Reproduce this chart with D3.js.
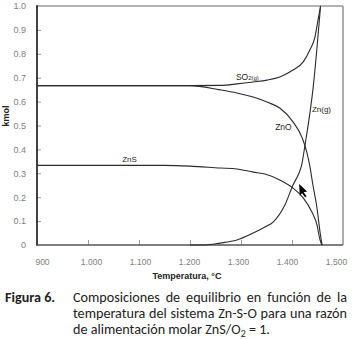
<!DOCTYPE html>
<html>
<head>
<meta charset="utf-8">
<script src="https://cdn.jsdelivr.net/npm/d3@7"></script>
<style>
  html, body { margin: 0; padding: 0; background: #fff; }
  svg { display: block; }
</style>
</head>
<body>
<svg id="chart" width="353" height="339"></svg>
<script>
// Equilibrium composition of the Zn-S-O system vs temperature (kmol)
const so2Temp  = [900, 1200, 1259, 1292, 1324, 1351, 1376, 1402, 1422, 1435, 1445, 1451, 1456];
const so2Kmol  = [0.667, 0.667, 0.668, 0.674, 0.682, 0.690, 0.703, 0.732, 0.766, 0.816, 0.870, 0.941, 1.0];

const znoTemp  = [900, 1200, 1259, 1292, 1324, 1351, 1376, 1402, 1420, 1429, 1435, 1441, 1449, 1455, 1459];
const znoKmol  = [0.667, 0.667, 0.649, 0.636, 0.619, 0.598, 0.573, 0.515, 0.448, 0.389, 0.330, 0.251, 0.155, 0.054, 0];

const zngTemp  = [1200, 1225, 1259, 1292, 1324, 1347, 1363, 1386, 1402, 1412, 1419, 1425, 1442, 1456];
const zngKmol  = [0, 0, 0.008, 0.021, 0.050, 0.075, 0.096, 0.167, 0.251, 0.293, 0.335, 0.411, 0.669, 1.0];

const znsTemp  = [900, 1150, 1200, 1259, 1292, 1324, 1347, 1376, 1402, 1422, 1439, 1449, 1455, 1459];
const znsKmol  = [0.333, 0.333, 0.330, 0.322, 0.318, 0.305, 0.297, 0.272, 0.238, 0.197, 0.138, 0.084, 0.021, 0];

const xTicks = [900, 1000, 1100, 1200, 1300, 1400, 1500];
const xTickLabels = ["900", "1.000", "1.100", "1.200", "1.300", "1.400", "1.500"];
const yTicks = [0, 0.1, 0.2, 0.3, 0.4, 0.5, 0.6, 0.7, 0.8, 0.9, 1.0];
const yTickLabels = ["0", "0.1", "0.2", "0.3", "0.4", "0.5", "0.6", "0.7", "0.8", "0.9", "1.0"];

const svg = d3.select("#chart");
const plotL = 37, plotR = 343, plotT = 6, plotB = 245;

const x = d3.scaleLinear().domain([900, 1500]).range([plotL, plotR]);
const y = d3.scaleLinear().domain([0, 1]).range([plotB, plotT]);
// tick labels sit on a slightly narrower span than the tick marks
const xLab = d3.scaleLinear().domain([900, 1500]).range([42, 336]);

const tickFont = "'Liberation Sans', Arial, sans-serif";

// frame: top and right edges in grey
svg.append("line").attr("x1", plotL).attr("x2", plotR).attr("y1", plotT).attr("y2", plotT)
  .attr("stroke", "#999").attr("stroke-width", 1.6);
svg.append("line").attr("x1", plotR).attr("x2", plotR).attr("y1", plotT).attr("y2", plotB)
  .attr("stroke", "#999").attr("stroke-width", 1.6);

// inward tick marks
const xAxis = d3.axisTop(x).tickValues(xTicks.slice(1, -1)).tickSize(5).tickFormat("");
const gx = svg.append("g").attr("transform", `translate(0,${plotB})`).call(xAxis);
gx.select(".domain").remove();
gx.selectAll(".tick line").attr("stroke", "#999");

const yAxis = d3.axisRight(y).tickValues(yTicks.slice(1, -1)).tickSize(4).tickFormat("");
const gy = svg.append("g").attr("transform", `translate(${plotL},0)`).call(yAxis);
gy.select(".domain").remove();
gy.selectAll(".tick line").attr("stroke", "#999");

// tick labels
const gxl = svg.append("g").attr("transform", `translate(0,${plotB})`)
  .call(d3.axisBottom(xLab).tickValues(xTicks).tickSize(0).tickPadding(14)
    .tickFormat((d, i) => xTickLabels[i]));
gxl.select(".domain").remove();
gxl.selectAll("text").attr("font-family", tickFont).attr("font-size", 8.5).attr("fill", "#808080");

const gyl = svg.append("g").attr("transform", `translate(${plotL},0)`)
  .call(d3.axisLeft(y).tickValues(yTicks).tickSize(0).tickPadding(11)
    .tickFormat((d, i) => yTickLabels[i]));
gyl.select(".domain").remove();
gyl.selectAll("text").attr("font-family", tickFont).attr("font-size", 9).attr("fill", "#808080");

// left and bottom axis lines
svg.append("line").attr("x1", plotL).attr("x2", plotL).attr("y1", plotT - 0.8).attr("y2", plotB + 0.8)
  .attr("stroke", "#111").attr("stroke-width", 1.6);
svg.append("line").attr("x1", plotL).attr("x2", plotR).attr("y1", plotB).attr("y2", plotB)
  .attr("stroke", "#555").attr("stroke-width", 1.6);

// axis titles
svg.append("text").attr("x", 187).attr("y", 279).attr("text-anchor", "middle")
  .attr("font-family", tickFont).attr("font-weight", "bold").attr("font-size", 9)
  .attr("fill", "#222").text("Temperatura, °C");
svg.append("text").attr("transform", "translate(9,116) rotate(-90)").attr("text-anchor", "middle")
  .attr("font-family", tickFont).attr("font-weight", "bold").attr("font-size", 9)
  .attr("fill", "#222").text("kmol");

// curves
const line = d3.line().x(d => x(d[0])).y(d => y(d[1])).curve(d3.curveMonotoneX);
const series = [
  [so2Temp, so2Kmol],
  [znoTemp, znoKmol],
  [zngTemp, zngKmol],
  [znsTemp, znsKmol]
];
series.forEach(([t, v]) => {
  svg.append("path")
    .datum(t.map((d, i) => [d, v[i]]))
    .attr("d", line)
    .attr("fill", "none")
    .attr("stroke", "#2a2a2a")
    .attr("stroke-width", 1.1);
});

// curve labels
const labFont = "'Liberation Sans', Arial, sans-serif";
function curveLabel(t, v, parts) {
  const txt = svg.append("text").attr("x", x(t)).attr("y", y(v))
    .attr("font-family", labFont).attr("font-size", 8).attr("fill", "#222");
  parts.forEach(p => txt.append("tspan").attr("font-size", p[1]).text(p[0]));
}
curveLabel(1290, 0.69, [["SO", 8.5], ["2(g)", 6]]);
curveLabel(1439, 0.556, [["Zn(g)", 8]]);
curveLabel(1367, 0.481, [["ZnO", 8.5]]);
curveLabel(1067, 0.347, [["ZnS", 8]]);

// pointer arrow at the ZnS / Zn(g) crossing
const ax = x(1414), ay = y(0.255);
svg.append("path")
  .attr("d", `M${ax},${ay} l8,7.5 l-3.5,0.6 l3,4.2 l-1.6,1 l-3,-4.2 l-2.3,2.6 Z`)
  .attr("fill", "#000");

// caption with hanging indent, first two lines justified
const capFont = "Carlito, Lato, 'Open Sans', sans-serif";
const capX0 = 73, capX1 = 347, lastLineEnd = 270;

const last = svg.append("text").attr("x", capX0).attr("y", 334)
  .attr("font-family", capFont).attr("font-size", 12).attr("fill", "#222");
last.append("tspan").attr("class", "main").text("de alimentación molar ZnS/O");
last.append("tspan").attr("class", "sub").attr("font-size", 12 * 0.7).attr("dy", 2.5).text("2");
last.append("tspan").attr("class", "main").attr("dy", -2.5).text(" = 1.");
// size the caption type so the closing line ends where it should
const capSize = 12 * (lastLineEnd - capX0) / last.node().getComputedTextLength();
last.attr("font-size", capSize);
last.selectAll("tspan.sub").attr("font-size", capSize * 0.7);

svg.append("text").attr("x", 5).attr("y", 302)
  .attr("font-family", capFont).attr("font-size", capSize).attr("font-weight", "bold")
  .attr("fill", "#222").text("Figura 6.");

function justified(words, yy) {
  const nodes = words.map(w => svg.append("text").attr("y", yy)
    .attr("font-family", capFont).attr("font-size", capSize).attr("fill", "#222").text(w));
  const widths = nodes.map(n => n.node().getComputedTextLength());
  const gap = (capX1 - capX0 - d3.sum(widths)) / (words.length - 1);
  let xx = capX0;
  nodes.forEach((n, i) => { n.attr("x", xx); xx += widths[i] + gap; });
}
justified("Composiciones de equilibrio en función de la".split(" "), 302);
justified("temperatura del sistema Zn-S-O para una razón".split(" "), 318);
</script>
</body>
</html>
